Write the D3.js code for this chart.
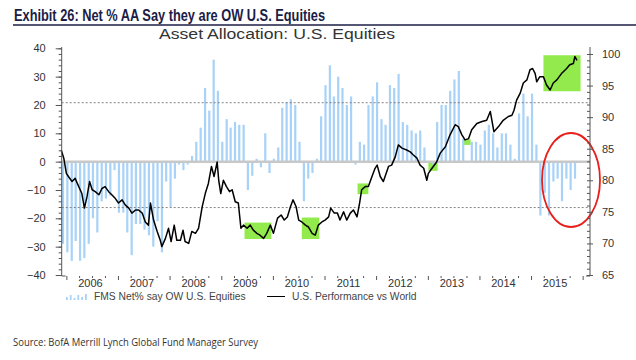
<!DOCTYPE html>
<html><head><meta charset="utf-8">
<script src="https://cdn.jsdelivr.net/npm/d3@7"></script>
<style>html,body{margin:0;padding:0;background:#fff;}svg{display:block;}</style>
</head><body>
<svg id="c" width="636" height="360"></svg>
<script>
// ---- DATA ----
const title = "Exhibit 26: Net % AA Say they are OW U.S. Equities";
const subtitle = "Asset Allocation: U.S. Equities";
const source = "Source: BofA Merrill Lynch Global Fund Manager Survey";
const yearLabels = ["2006","2007","2008","2009","2010","2011","2012","2013","2014","2015"];
const leftTicks = [-40,-30,-20,-10,0,10,20,30,40];
const rightTicks = [65,70,75,80,85,90,95,100];
const barStart = [2005, 11]; // first survey month (Dec 2005)
const fmsNet = [-29,-32,-35,-28,-35,-34,-29,-20,-25,-14,-13,-12,-3,-18,-18,-25,-33,-22,-22,-24,
  -26,-30,-21,-32,-7,-16,-6,-1,-3,-1,2,7,12,26,18,36,25,7,15,12,
  14,13,13,-10,-5,1,-2,10,-4,1,5,19,21,22,20,7,-14,-6,-4,1,
  16,27,34,23,30,26,20,23,-1,7,6,20,23,28,15,13,27,26,31,14,
  13,11,10,11,5,0,-1,14,20,20,25,29,32,8,0,7,7,6,11,13,
  10,5,10,10,6,1,17,24,16,24,6,-19,-11,-19,-7,-6,-14,-6,-10,-6];
const perfTime = [2005.90,2005.95,2006.00,2006.04,2006.11,2006.17,2006.24,2006.30,2006.35,2006.40,2006.45,2006.50,2006.56,2006.63,2006.69,2006.75,2006.82,2006.88,2006.95,
  2007.01,2007.08,2007.14,2007.21,2007.27,2007.34,2007.40,2007.47,2007.53,2007.59,2007.63,2007.69,2007.76,2007.82,2007.85,2007.92,2007.98,
  2008.03,2008.09,2008.14,2008.21,2008.26,2008.30,2008.37,2008.43,2008.50,2008.56,2008.63,2008.69,2008.75,2008.81,2008.86,2008.92,2008.95,2008.99,
  2009.04,2009.10,2009.16,2009.21,2009.27,2009.33,2009.38,2009.43,2009.50,2009.56,2009.62,2009.69,2009.75,2009.82,2009.88,2009.95,
  2010.01,2010.09,2010.16,2010.22,2010.28,2010.34,2010.39,2010.45,2010.50,2010.56,2010.63,2010.69,2010.76,2010.82,2010.88,2010.95,
  2011.01,2011.08,2011.12,2011.19,2011.25,2011.30,2011.37,2011.43,2011.50,2011.56,2011.63,2011.68,2011.72,2011.79,2011.85,2011.92,2011.98,
  2012.02,2012.08,2012.14,2012.24,2012.30,2012.37,2012.43,2012.50,2012.59,2012.66,2012.72,2012.79,2012.85,2012.92,2012.98,
  2013.01,2013.08,2013.17,2013.24,2013.34,2013.43,2013.53,2013.59,2013.66,2013.72,2013.79,2013.85,2013.95,
  2014.05,2014.14,2014.21,2014.28,2014.37,2014.46,2014.56,2014.63,2014.67,2014.72,2014.79,2014.85,2014.92,2014.98,
  2015.03,2015.08,2015.11,2015.17,2015.24,2015.30,2015.37,2015.43,2015.50,2015.59,2015.69,2015.75,2015.82,2015.85,2015.89];
const perfValue = [84.8,83.5,81.1,80.6,79.8,80.3,79.0,77.9,75.6,77.4,79.8,78.5,78.2,77.7,78.7,79.0,78.2,77.7,77.1,
  76.4,76.9,76.1,75.6,74.8,75.3,75.3,74.8,73.4,72.9,76.4,73.7,71.9,70.5,69.5,70.8,72.4,
  70.3,72.9,70.5,70.5,72.1,70.3,70.0,71.9,71.6,72.4,75.8,77.9,79.5,82.2,80.6,82.9,80.0,77.9,
  80.0,79.0,78.2,78.5,76.6,76.4,72.4,72.9,72.4,72.9,72.1,71.6,71.3,70.8,71.6,72.9,
  71.6,74.0,74.5,73.7,74.2,75.8,76.9,75.8,73.7,73.4,72.9,72.6,71.6,71.3,72.9,73.4,
  73.7,74.2,75.6,74.8,74.8,73.7,75.0,73.7,74.8,75.3,74.2,76.4,78.5,79.0,79.0,80.6,81.9,
  82.4,80.6,79.8,82.2,82.4,83.7,85.6,85.1,84.8,84.5,84.0,83.5,82.4,81.9,80.0,
  81.1,81.9,82.9,84.3,85.3,87.2,88.8,88.5,87.2,86.4,86.6,88.0,89.0,
  89.3,89.5,90.9,87.7,88.5,89.5,90.1,90.3,91.1,92.7,93.8,95.4,95.9,97.5,
  97.7,96.9,95.6,96.4,96.4,95.1,94.3,95.4,95.9,96.9,97.7,98.3,98.5,99.6,99.0];
// highlight boxes: [start, end] in years, [low, high] on right axis
const boxStart = [2009.45,2010.56,2011.64,2013.01,2013.70,2015.24];
const boxEnd   = [2009.97,2010.90,2011.85,2013.19,2013.83,2015.96];
const boxLow   = [70.7,70.7,77.8,81.5,85.6,94.1];
const boxHigh  = [73.3,74.1,79.5,82.8,86.5,99.8];
const bandLevels = [20.8,-16.2]; // dotted reference lines (left axis)
const legendLabels = ["FMS Net% say OW U.S. Equities","U.S. Performance vs World"];

// ---- CHART ----
const svg = d3.select("#c");
const L = 61.7, R = 590, T = 47, B = 276;
const x = d3.scaleTime().domain([new Date(2005,10,29), new Date(2016,1,22)]).range([L,R]);
const yL = d3.scaleLinear().domain([-40,40]).range([275,48.3]);
const yR = d3.scaleLinear().domain([65,100]).range([275,54]);
function dy(t){const y=Math.floor(t);const s=new Date(y,0,1),e=new Date(y+1,0,1);return new Date(+s+(t-y)*(e-s));}
const font = "'Liberation Sans', Arial, sans-serif";

// title
svg.append("text").attr("x",14).attr("y",21).text(title)
  .attr("font-family","'Liberation Sans Narrow', 'Liberation Sans', sans-serif").attr("font-weight","bold")
  .attr("font-size",16.5).attr("fill","#1c1c46").attr("textLength",311).attr("lengthAdjust","spacingAndGlyphs");
svg.append("line").attr("x1",13).attr("x2",636).attr("y1",25).attr("y2",25).attr("stroke","#1c1c46").attr("stroke-width",1.6);
svg.append("text").attr("x",277).attr("y",39).attr("text-anchor","middle").text(subtitle)
  .attr("font-family",font).attr("font-size",15.5).attr("fill","#333").attr("textLength",236).attr("lengthAdjust","spacingAndGlyphs");

// green highlight boxes
svg.append("g").selectAll("rect").data(boxStart).join("rect")
  .attr("x",(d,i)=>x(dy(d))).attr("width",(d,i)=>x(dy(boxEnd[i]))-x(dy(d)))
  .attr("y",(d,i)=>yR(boxHigh[i])).attr("height",(d,i)=>yR(boxLow[i])-yR(boxHigh[i]))
  .attr("fill","#92ea4c");

// bars
const bw = 2.2;
svg.append("g").selectAll("rect").data(fmsNet).join("rect")
  .attr("x",(d,i)=>x(new Date(barStart[0],barStart[1]+i,8))-bw/2).attr("width",bw)
  .attr("y",d=>yL(Math.max(0,d))).attr("height",d=>Math.abs(yL(d)-yL(0)))
  .attr("fill","#a8d2f8");

// zero line and dotted levels
svg.append("line").attr("x1",L).attr("x2",R).attr("y1",yL(0)).attr("y2",yL(0)).attr("stroke","#c8c8c8").attr("stroke-width",2.5);
svg.append("g").selectAll("line").data(bandLevels).join("line")
  .attr("x1",L).attr("x2",R).attr("y1",d=>yL(d)).attr("y2",d=>yL(d))
  .attr("stroke","#777").attr("stroke-width",0.9).attr("stroke-dasharray","2,2");

// performance line
const pts = perfTime.map((t,i)=>[dy(t),perfValue[i]]);
svg.append("path").datum(pts).attr("fill","none").attr("stroke","#000").attr("stroke-width",1.5)
  .attr("stroke-linejoin","round").attr("d",d3.line().x(d=>x(d[0])).y(d=>yR(d[1])));

// red ellipse
svg.append("ellipse").attr("cx",571).attr("cy",180).attr("rx",29).attr("ry",47)
  .attr("fill","none").attr("stroke","#e8201c").attr("stroke-width",1.8);

// axes
function styleAxis(g){g.selectAll("path,line").attr("stroke","#555");g.selectAll("text").attr("font-family",font).attr("font-size",11).attr("fill","#333");}
const axL = svg.append("g").attr("transform",`translate(${L},0)`)
  .call(d3.axisLeft(yL).tickValues(leftTicks).tickSize(6).tickSizeOuter(0).tickPadding(10).tickFormat(d3.format("d")));
axL.select(".domain").attr("d",`M0,${T}V${B}H4`);
styleAxis(axL);
const axLm = svg.append("g").attr("transform",`translate(${L},0)`)
  .call(d3.axisLeft(yL).tickValues(d3.range(-40,41,2)).tickSize(3).tickFormat(""));
axLm.select(".domain").remove(); styleAxis(axLm);

const axR = svg.append("g").attr("transform",`translate(${R},0)`)
  .call(d3.axisRight(yR).tickValues(rightTicks).tickSize(3).tickSizeOuter(0).tickPadding(9).tickFormat(d3.format("d")));
axR.select(".domain").attr("d",`M-4,${B}H0V${T}`);
styleAxis(axR);
const axRm = svg.append("g").attr("transform",`translate(${R},0)`)
  .call(d3.axisLeft(yR).tickValues(d3.range(65,100.5,1)).tickSize(3).tickFormat(""));
axRm.select(".domain").remove(); styleAxis(axRm);

// bottom axis: year boundary ticks, quarter minor ticks, labels centered within each year
const yearsB = d3.range(2006,2017).map(y=>new Date(y,0,1));
const axB = svg.append("g").attr("transform",`translate(0,${B})`)
  .call(d3.axisBottom(x).tickValues(yearsB).tickSize(4).tickFormat(""));
axB.select(".domain").remove(); styleAxis(axB);
const quarters = d3.timeMonth.every(3).range(new Date(2006,0,1),new Date(2016,1,1)).filter(d=>d.getMonth()!==0);
const axBm = svg.append("g").attr("transform",`translate(0,${B})`)
  .call(d3.axisBottom(x).tickValues(quarters).tickSize(2).tickFormat(""));
axBm.select(".domain").remove(); styleAxis(axBm);
svg.append("g").selectAll("text").data(yearLabels).join("text")
  .attr("x",d=>x(new Date(+d,5,20))).attr("y",287).attr("text-anchor","middle").text(d=>d)
  .attr("font-family",font).attr("font-size",11).attr("fill","#333");

// legend
const lg = svg.append("g");
const iconH = [3,5,2,5,3,6];
lg.selectAll("rect").data(iconH).join("rect")
  .attr("x",(d,i)=>66+i*3.8).attr("width",1.8).attr("y",d=>300-d).attr("height",d=>d).attr("fill","#a8d2f8");
lg.append("text").attr("x",94).attr("y",300).text(legendLabels[0]).attr("font-family",font).attr("font-size",10.3).attr("fill","#444");
lg.append("line").attr("x1",267).attr("x2",285).attr("y1",296.5).attr("y2",296.5).attr("stroke","#000").attr("stroke-width",1);
lg.append("text").attr("x",292).attr("y",300).text(legendLabels[1]).attr("font-family",font).attr("font-size",10.3).attr("fill","#444");

// source
svg.append("text").attr("x",13).attr("y",346).text(source)
  .attr("font-family","'Open Sans', 'Noto Sans', sans-serif").attr("font-size",11).attr("fill","#333")
  .attr("textLength",245).attr("lengthAdjust","spacingAndGlyphs");
</script>
</body></html>
